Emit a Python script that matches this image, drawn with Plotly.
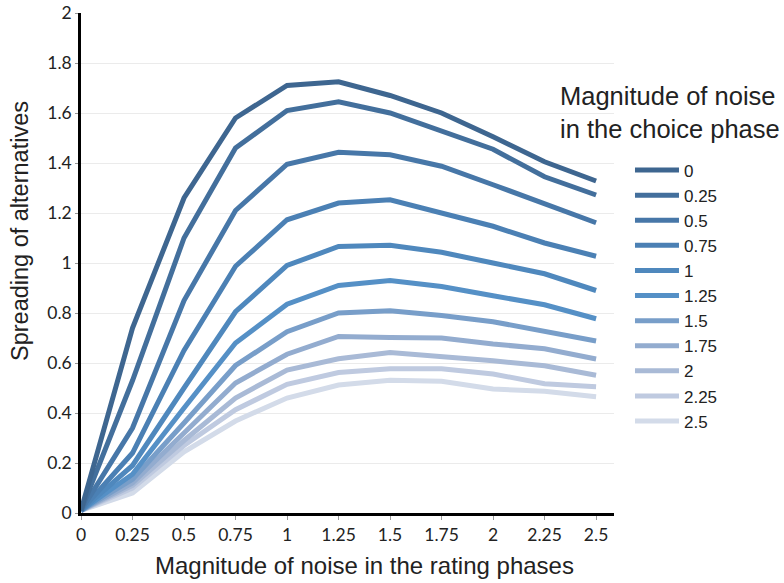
import plotly.graph_objects as go

x_vals = [0, 0.25, 0.5, 0.75, 1, 1.25, 1.5, 1.75, 2, 2.25, 2.5]
x_ticktext = ["0", "0.25", "0.5", "0.75", "1", "1.25", "1.5", "1.75", "2", "2.25", "2.5"]
y_tickvals = [0, 0.2, 0.4, 0.6, 0.8, 1, 1.2, 1.4, 1.6, 1.8, 2]
y_ticktext = ["0", "0.2", "0.4", "0.6", "0.8", "1", "1.2", "1.4", "1.6", "1.8", "2"]

series_names = ["0", "0.25", "0.5", "0.75", "1", "1.25", "1.5", "1.75", "2", "2.25", "2.5"]

s_0 = [0.01, 0.74, 1.26, 1.58, 1.71, 1.725, 1.67, 1.60, 1.505, 1.405, 1.328]
s_025 = [0.01, 0.53, 1.10, 1.46, 1.61, 1.645, 1.60, 1.527, 1.455, 1.345, 1.272]
s_05 = [0.01, 0.34, 0.85, 1.21, 1.395, 1.443, 1.433, 1.387, 1.313, 1.237, 1.161]
s_075 = [0.01, 0.24, 0.65, 0.987, 1.173, 1.24, 1.253, 1.20, 1.147, 1.08, 1.027]
s_1 = [0.01, 0.19, 0.50, 0.805, 0.99, 1.066, 1.071, 1.043, 1.0, 0.957, 0.89]
s_125 = [0.01, 0.155, 0.42, 0.68, 0.835, 0.91, 0.93, 0.906, 0.869, 0.833, 0.777]
s_15 = [0.01, 0.135, 0.36, 0.59, 0.725, 0.80, 0.809, 0.79, 0.765, 0.729, 0.688]
s_175 = [0.01, 0.12, 0.32, 0.52, 0.635, 0.706, 0.702, 0.70, 0.676, 0.657, 0.616]
s_2 = [0.01, 0.11, 0.29, 0.46, 0.572, 0.617, 0.642, 0.627, 0.609, 0.589, 0.551]
s_225 = [0.01, 0.10, 0.27, 0.413, 0.515, 0.562, 0.577, 0.577, 0.556, 0.517, 0.505]
s_25 = [0.01, 0.08, 0.245, 0.368, 0.46, 0.512, 0.531, 0.527, 0.496, 0.487, 0.465]

series_values = [s_0, s_025, s_05, s_075, s_1, s_125, s_15, s_175, s_2, s_225, s_25]

colors = ["#3e6690", "#436f9c", "#4777a8", "#4b80b4", "#4f88bd", "#5590c6",
          "#789ec9", "#93accf", "#a9bad6", "#bfcae0", "#d3dbe9"]

W, H = 784, 583
PL, PT, PW, PH = 81, 13, 533, 500

fig = go.Figure()
# draw lightest first so darker lines sit on top
for name, vals, col in reversed(list(zip(series_names, series_values, colors))):
    fig.add_trace(go.Scatter(
        x=x_vals, y=vals, mode="lines", name=name,
        line=dict(color=col, width=5),
    ))

fig.update_layout(
    width=W, height=H,
    margin=dict(l=PL, r=W - PL - PW, t=PT, b=H - PT - PH, autoexpand=False),
    paper_bgcolor="white", plot_bgcolor="white",
    font=dict(family="Liberation Sans, Arial, sans-serif", color="#222"),
    showlegend=True,
    legend=dict(
        traceorder="reversed",
        x=1.03, xanchor="left", y=0.721, yanchor="top",
        font=dict(size=17, family="Liberation Sans, Arial, sans-serif", color="#222"),
        itemwidth=44,
        bgcolor="rgba(0,0,0,0)",
        tracegroupgap=0,
    ),
    xaxis=dict(
        range=[0, 2.587], automargin=False, ticklabeloverflow="allow",
        tickmode="array", tickvals=x_vals, ticktext=x_ticktext,
        showgrid=False, zeroline=False,
        showline=True, linecolor="black", linewidth=2.5,
        ticks="outside", ticklen=4, tickcolor="#999", tickwidth=1,
        tickfont=dict(size=17.5, family="Lato, Carlito, sans-serif", color="#222"),
    ),
    yaxis=dict(
        range=[0, 2], automargin=False, ticklabeloverflow="allow",
        tickmode="array", tickvals=y_tickvals, ticktext=y_ticktext,
        showgrid=True, gridcolor="#ebebeb", gridwidth=1, zeroline=False,
        showline=True, linecolor="black", linewidth=2.5,
        ticks="outside", ticklen=3, tickcolor="#999", tickwidth=1,
        tickfont=dict(size=17.5, family="Lato, Carlito, sans-serif", color="#222"),
    ),
    annotations=[
        dict(text="Magnitude of noise in the rating phases", xref="paper", yref="paper",
             x=(364 - PL) / PW, y=-(565 - PT - PH) / PH, xanchor="center", yanchor="middle",
             showarrow=False, font=dict(size=24, color="#222")),
        dict(text="Spreading of alternatives", xref="paper", yref="paper",
             x=(20 - PL) / PW, y=1 - (231 - PT) / PH, xanchor="center", yanchor="middle",
             textangle=-90, showarrow=False, font=dict(size=23.5, color="#222")),
        dict(text="Magnitude of noise<br>in the choice phase", xref="paper", yref="paper",
             x=(558 - PL) / PW, y=1 - (113 - PT) / PH, xanchor="left", yanchor="middle",
             align="left", showarrow=False, font=dict(size=25.5, color="#222")),
    ],
)

fig.write_html("out.html", config={"displayModeBar": False},
               post_script="document.body.style.margin='0';")
